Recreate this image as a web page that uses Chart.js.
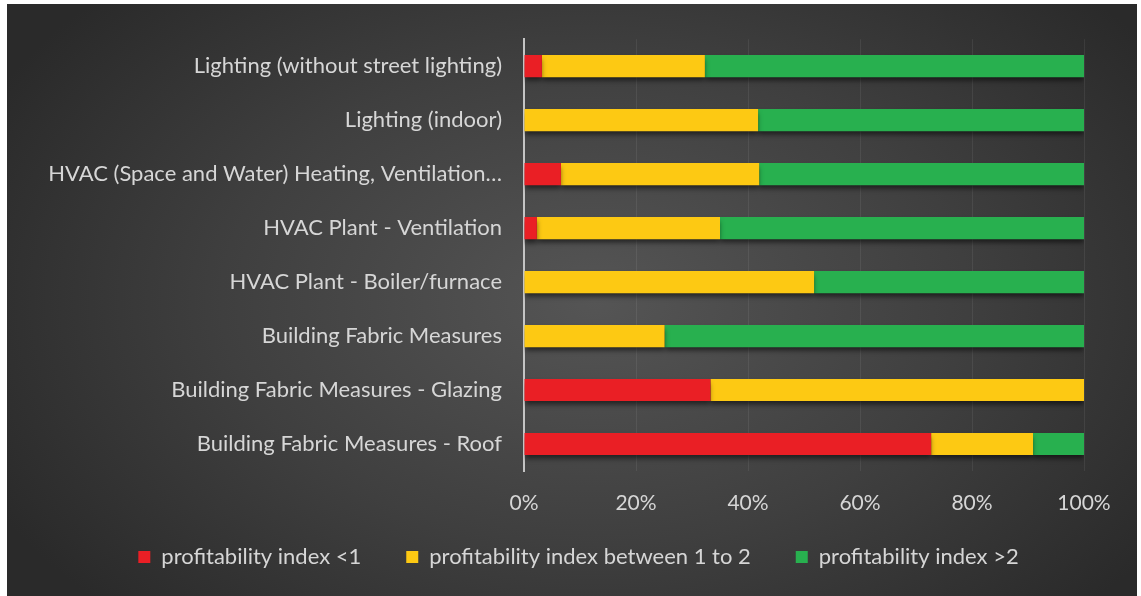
<!DOCTYPE html>
<html>
<head>
<meta charset="utf-8">
<script src="https://cdn.jsdelivr.net/npm/chart.js@4.4.1/dist/chart.umd.min.js"></script>
<style>
  html, body { margin: 0; padding: 0; background: #fff; }
  #wrap {
    position: absolute; left: 7px; top: 4px; width: 1130px; height: 592px; overflow: hidden;
    background: radial-gradient(ellipse 60% 75% at 52% 50%, #555555 0%, #3f3f3f 55%, #2a2a2a 100%);
  }
  canvas { display: block; }
</style>
</head>
<body>
<div id="wrap"><canvas id="chart" width="1130" height="592"></canvas></div>
<script>
// Categorías (de arriba hacia abajo)
const categories = [
    'Lighting (without street lighting)',
    'Lighting (indoor)',
    'HVAC (Space and Water) Heating, Ventilation…',
    'HVAC Plant - Ventilation',
    'HVAC Plant - Boiler/furnace',
    'Building Fabric Measures',
    'Building Fabric Measures - Glazing',
    'Building Fabric Measures - Roof'
];

// Porcentajes por serie
const indexBelow1 = [3.2, 0, 6.6, 2.3, 0, 0, 33.3, 72.7];
const indexBetween1and2 = [29.1, 41.8, 35.4, 32.7, 51.8, 25.1, 66.7, 18.2];
const indexAbove2 = [67.7, 58.2, 58.0, 65.0, 48.2, 74.9, 0, 9.1];

const seriesLabels = ['profitability index <1', 'profitability index between 1 to 2', 'profitability index >2'];
const seriesColors = ['#ea1f25', '#fdc913', '#28b04f'];
const xTicks = [0, 20, 40, 60, 80, 100];

const textColor = '#d6d6d6';
const fontFamily = 'Lato, "Open Sans", sans-serif';

// Sombra ligera bajo las barras
const barShadow = {
    id: 'barShadow',
    beforeDatasetsDraw(chart) {
        const ctx = chart.ctx;
        ctx.save();
        ctx.shadowColor = 'rgba(0,0,0,0.55)';
        ctx.shadowBlur = 5;
        ctx.shadowOffsetY = 4;
    },
    afterDatasetsDraw(chart) {
        chart.ctx.restore();
    }
};

// Desplazar la leyenda un poco a la derecha y hacia arriba
const legendOffset = {
    id: 'legendOffset',
    afterLayout(chart) {
        const lg = chart.legend;
        if (!lg) return;
        const dx = 33, dy = -14;
        lg.left += dx; lg.right += dx;
        lg.top += dy; lg.bottom += dy;
    }
};

const ctx = document.getElementById('chart').getContext('2d');
new Chart(ctx, {
    type: 'bar',
    data: {
        labels: categories,
        datasets: [indexBelow1, indexBetween1and2, indexAbove2].map((data, i) => ({
            label: seriesLabels[i],
            data: data,
            backgroundColor: seriesColors[i],
            borderWidth: 0,
            barPercentage: 1,
            categoryPercentage: 0.41
        }))
    },
    options: {
        indexAxis: 'y',
        responsive: false,
        animation: false,
        layout: { padding: { top: 33, right: 53, bottom: 4, left: 0 } },
        scales: {
            x: {
                stacked: true,
                min: 0,
                max: 100,
                afterBuildTicks: (scale) => { scale.ticks = xTicks.map(v => ({ value: v })); },
                ticks: {
                    color: textColor,
                    font: { family: fontFamily, size: 21 },
                    padding: 20,
                    callback: (v) => v + '%'
                },
                grid: {
                    color: (c) => c.index === 0 ? 'rgba(0,0,0,0)' : 'rgba(255,255,255,0.07)',
                    drawTicks: false
                },
                border: { display: false },
                afterFit: (s) => { s.height = 44; }
            },
            y: {
                stacked: true,
                ticks: {
                    color: textColor,
                    font: { family: fontFamily, size: 22 },
                    padding: 22
                },
                grid: { display: false, drawTicks: false },
                border: { color: '#c4c4c4', width: 2 },
                afterFit: (s) => { s.width = 517; }
            }
        },
        plugins: {
            legend: {
                position: 'bottom',
                labels: {
                    color: textColor,
                    font: { family: fontFamily, size: 22 },
                    boxWidth: 12,
                    boxHeight: 12,
                    padding: 45
                }
            },
            tooltip: { enabled: false }
        }
    },
    plugins: [barShadow, legendOffset]
});
</script>
</body>
</html>
